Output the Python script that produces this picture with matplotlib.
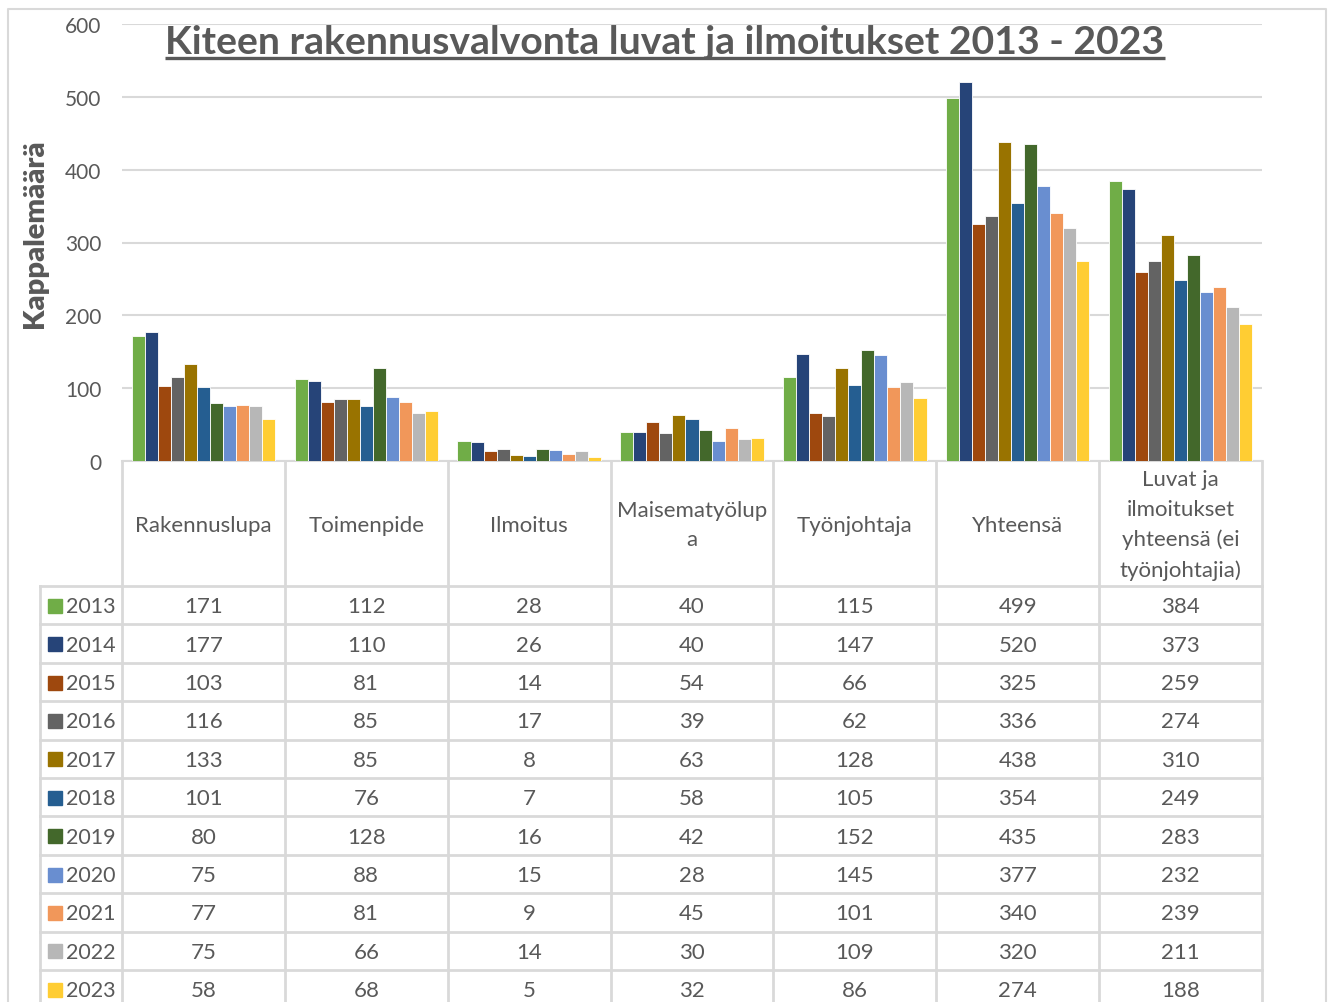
#chart + data table, Excel style
import matplotlib
matplotlib.use('Agg')
import matplotlib.pyplot as plt
import numpy as np

plt.rcParams['font.family'] = ['Lato', 'DejaVu Sans']

TITLE = 'Kiteen rakennusvalvonta luvat ja ilmoitukset 2013 - 2023'
YLABEL = 'Kappalemäärä'
categories = ['Rakennuslupa', 'Toimenpide', 'Ilmoitus', 'Maisematyölup\na',
              'Työnjohtaja', 'Yhteensä',
              'Luvat ja\nilmoitukset\nyhteensä (ei\ntyönjohtajia)']
years = ['2013', '2014', '2015', '2016', '2017', '2018',
         '2019', '2020', '2021', '2022', '2023']
# one list per year, values in category order
v2013 = [171, 112, 28, 40, 115, 499, 384]
v2014 = [177, 110, 26, 40, 147, 520, 373]
v2015 = [103, 81, 14, 54, 66, 325, 259]
v2016 = [116, 85, 17, 39, 62, 336, 274]
v2017 = [133, 85, 8, 63, 128, 438, 310]
v2018 = [101, 76, 7, 58, 105, 354, 249]
v2019 = [80, 128, 16, 42, 152, 435, 283]
v2020 = [75, 88, 15, 28, 145, 377, 232]
v2021 = [77, 81, 9, 45, 101, 340, 239]
v2022 = [75, 66, 14, 30, 109, 320, 211]
v2023 = [58, 68, 5, 32, 86, 274, 188]
values = [v2013, v2014, v2015, v2016, v2017, v2018,
          v2019, v2020, v2021, v2022, v2023]
colors = ['#70AD47', '#264478', '#9E480E', '#636363', '#997300', '#255E91',
          '#43682B', '#698ED0', '#F1975A', '#B7B7B7', '#FFCD33']

TXT = '#595959'
GRID = '#D9D9D9'
W, H = 1331, 1003
# layout in pixels
X0, X1, Y0, Y1 = 122, 1262, 462, 25
LEGX = 40
HEAD = 587
ROWH = 38.4
FS = 16

fig = plt.figure(figsize=(W / 100, H / 100), dpi=100)

# overlay in pixel coords for frame + table
ov = fig.add_axes([0, 0, 1, 1])
ov.set_xlim(0, W)
ov.set_ylim(H, 0)
ov.axis('off')

ax = fig.add_axes([X0 / W, 1 - Y0 / H, (X1 - X0) / W, (Y0 - Y1) / H])
ax.patch.set_alpha(0)

n = len(categories)
x = np.arange(n)
bw = 0.08
for j, (yr, vals) in enumerate(zip(years, values)):
    ax.bar(x + (j - 5) * bw, vals, width=bw, color=colors[j],
           edgecolor='white', linewidth=0.6, zorder=3)

ax.set_xlim(-0.5, n - 0.5)
ax.set_ylim(0, 600)
ax.set_yticks(range(0, 601, 100))
ax.yaxis.grid(True, color=GRID, linewidth=1.5, zorder=0)
ax.set_xticks([])
ax.tick_params(axis='y', length=0, pad=15, labelsize=15, labelcolor=TXT)
for s in ['top', 'right', 'left']:
    ax.spines[s].set_visible(False)
ax.spines['bottom'].set_color(GRID)
ax.spines['bottom'].set_linewidth(1.5)
ax.set_ylabel(YLABEL, fontsize=21, fontweight='heavy', color=TXT, labelpad=12)
ax.yaxis.label.set_y(0.522)

# title, underlined
t = ov.text(665, 42, TITLE, ha='center', va='center', fontsize=28.2,
            fontweight='bold', color=TXT, zorder=5)
fig.canvas.draw()
bb = t.get_window_extent().transformed(ov.transData.inverted())
ov.plot([bb.x0, bb.x1], [bb.y0 - 1, bb.y0 - 1], color=TXT, linewidth=2.4,
        solid_capstyle='butt')

# outer chart frame
ov.plot([8, 8, 1326, 1326], [H + 5, 10, 10, H + 5], color=GRID, linewidth=1.5)

# data table
colw = (X1 - X0) / n
lw = 2.0
bottom = H + 10
for i in range(n + 1):
    xx = X0 + i * colw
    ov.plot([xx, xx], [Y0, bottom], color=GRID, linewidth=lw)
ov.plot([LEGX, LEGX], [HEAD, bottom], color=GRID, linewidth=lw)
for r in range(len(years) + 1):
    yy = HEAD + r * ROWH
    ov.plot([LEGX, X1], [yy, yy], color=GRID, linewidth=lw)

for i, c in enumerate(categories):
    ov.text(X0 + (i + 0.5) * colw, (Y0 + HEAD) / 2 + 1, c, ha='center',
            va='center', fontsize=FS, color=TXT, linespacing=1.6)

for r, (yr, vals) in enumerate(zip(years, values)):
    yc = HEAD + (r + 0.5) * ROWH
    ov.add_patch(plt.Rectangle((48, yc - 6.5), 14, 14, color=colors[r]))
    ov.text(66, yc + 1, yr, ha='left', va='center', fontsize=15.5, color=TXT)
    for i, v in enumerate(vals):
        ov.text(X0 + (i + 0.5) * colw, yc + 1, str(v), ha='center',
                va='center', fontsize=FS, color=TXT)

fig.savefig('out.png', dpi=100)
